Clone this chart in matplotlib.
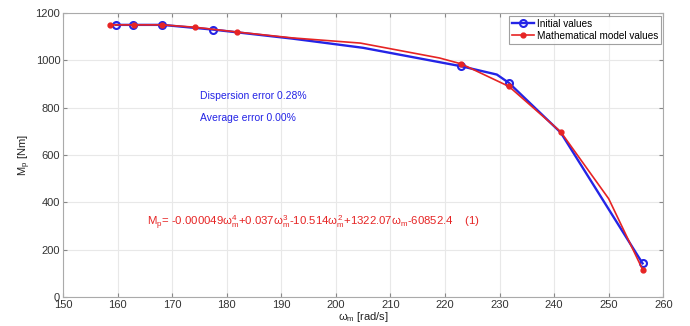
import matplotlib
matplotlib.use("Agg")
import matplotlib.pyplot as plt

plt.rcParams["font.family"] = ["Liberation Sans", "DejaVu Sans"]
plt.rcParams["mathtext.fontset"] = "custom"
plt.rcParams["mathtext.rm"] = "Liberation Sans"
plt.rcParams["mathtext.it"] = "Liberation Sans"

# Initial values (line vertices, circles on MARK_INIT)
init_w = [159.7, 162.8, 168.2, 177.5, 192.0, 205.0, 223.0, 229.5, 231.7, 241.2, 256.2]
init_m = [1150, 1150, 1150, 1130, 1092, 1053, 975, 940, 905, 695, 142]
MARK_INIT = [0, 1, 2, 3, 6, 8, 10]

# Mathematical model values (line vertices, dots on MARK_MODEL)
model_w = [158.6, 163.0, 168.2, 174.2, 181.8, 192.0, 204.5, 219.0, 223.0, 231.7, 241.2, 250.0, 256.2]
model_m = [1150, 1150, 1150, 1140, 1120, 1095, 1073, 1010, 985, 890, 698, 415, 116]
MARK_MODEL = [0, 1, 2, 3, 4, 8, 9, 10, 12]

BLUE = "#2424e6"
RED = "#e62424"

fig = plt.figure(figsize=(6.9, 3.26), dpi=100)
ax = fig.add_axes([0.0913, 0.089, 0.870, 0.871])

ax.plot(init_w, init_m, color=BLUE, lw=1.7, marker="o", ms=5, mfc="none",
        mew=1.5, markevery=MARK_INIT, label="Initial values")
ax.plot(model_w, model_m, color=RED, lw=1.2, marker="o", ms=3.5,
        markevery=MARK_MODEL, label="Mathematical model values")

ax.set_xlim(150, 260)
ax.set_ylim(0, 1200)
ax.set_xticks(range(150, 261, 10))
ax.set_yticks(range(0, 1201, 200))
ax.grid(True, color="#e8e8e8", lw=0.8)
ax.set_axisbelow(True)
ax.tick_params(direction="in", top=True, right=True, labelsize=8,
               length=3, color="#888888", labelcolor="#333333", pad=2)
for sp in ax.spines.values():
    sp.set_color("#aaaaaa")

ax.set_xlabel(r"$\omega_m$ [rad/s]", fontsize=8, labelpad=0, color="#222222")
ax.set_ylabel(r"M$_p$ [Nm]", fontsize=8, labelpad=2, color="#222222")

ax.text(175.1, 850, "Dispersion error 0.28%", color=BLUE, fontsize=7.5, va="center")
ax.text(175.1, 756, "Average error 0.00%", color=BLUE, fontsize=7.5, va="center")
ax.text(165.4, 313,
        r"M$_p$= -0.000049$\omega_m^4$+0.037$\omega_m^3$-10.514$\omega_m^2$"
        r"+1322.07$\omega_m$-60852.4    (1)",
        color=RED, fontsize=8.2, va="center")

leg = ax.legend(loc="upper right", fontsize=7.2, frameon=True, fancybox=False,
                borderpad=0.3, handlelength=2.2, handletextpad=0.3,
                labelspacing=0.2, borderaxespad=0.25)
leg.get_frame().set_edgecolor("#888888")
leg.get_frame().set_linewidth(0.8)

fig.savefig("out.png", dpi=100)
